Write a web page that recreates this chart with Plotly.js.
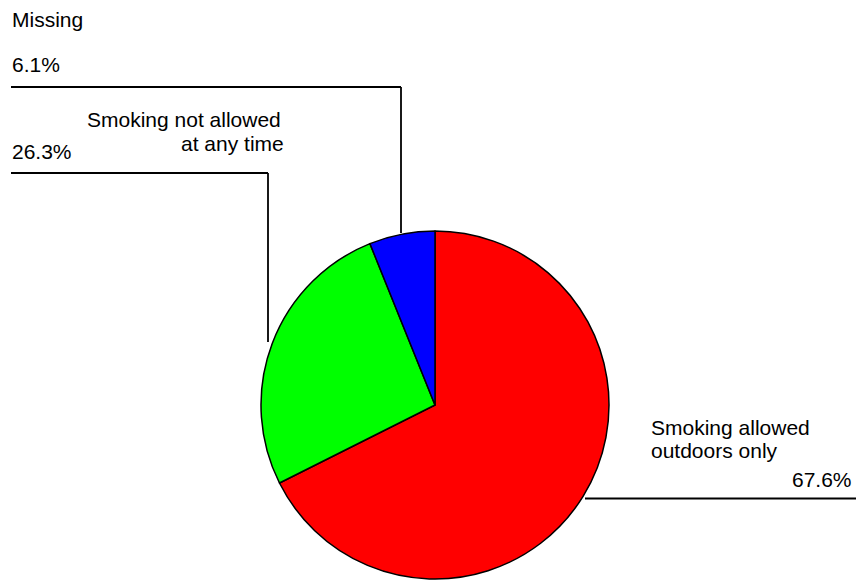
<!DOCTYPE html>
<html><head><meta charset="utf-8">
<script src="https://cdn.plot.ly/plotly-3.0.1.min.js"></script>
<style>html,body{margin:0;padding:0;background:#fff}</style>
</head><body>
<div id="chart" style="width:859px;height:580px"></div>
<script>
const categories = ["Smoking allowed outdoors only", "Smoking not allowed at any time", "Missing"];
const values = [67.6, 26.3, 6.1];
const pctLabels = ["67.6%", "26.3%", "6.1%"];
const colors = ["#FF0000", "#00FF00", "#0000FF"];

const W = 859, H = 580;
const px = x => x / W;
const py = y => 1 - y / H;

const cx = 435, cy = 405, r = 174;

const trace = {
  type: "pie",
  labels: categories,
  values: values,
  sort: false,
  direction: "clockwise",
  rotation: 0,
  textinfo: "none",
  hoverinfo: "label+percent",
  marker: { colors: colors, line: { color: "#000", width: 1.5 } },
  domain: { x: [px(cx - r), px(cx + r)], y: [py(cy + r), py(cy - r)] },
  showlegend: false
};

const font = { family: "Liberation Sans, Arial, sans-serif", size: 21, color: "#000" };
function ann(text, x, y, xanchor) {
  return { text: text, x: px(x), y: py(y), xref: "paper", yref: "paper",
           xanchor: xanchor, yanchor: "middle", showarrow: false, font: font };
}
const annotations = [
  ann(categories[2], 10, 20, "left"),
  ann(pctLabels[2], 10, 64, "left"),
  ann("Smoking not allowed", 283, 120, "right"),
  ann("at any time", 286, 143, "right"),
  ann(pctLabels[1], 10, 151, "left"),
  ann("Smoking allowed", 649, 427, "left"),
  ann("outdoors only", 649, 450, "left"),
  ann(pctLabels[0], 854, 479, "right")
];

function seg(x0, y0, x1, y1) {
  return { type: "line", xref: "paper", yref: "paper",
           x0: px(x0), y0: py(y0), x1: px(x1), y1: py(y1),
           line: { color: "#000", width: 1.8 } };
}
const shapes = [
  seg(11, 87, 401, 87), seg(401, 87, 401, 233),
  seg(11, 173, 268, 173), seg(268, 173, 268, 342),
  seg(585, 498.5, 856, 498.5)
];

Plotly.newPlot("chart", [trace], {
  width: W, height: H,
  margin: { l: 0, r: 0, t: 0, b: 0 },
  paper_bgcolor: "#fff",
  annotations: annotations,
  shapes: shapes
}, { displayModeBar: false, staticPlot: true });
</script>
</body></html>
